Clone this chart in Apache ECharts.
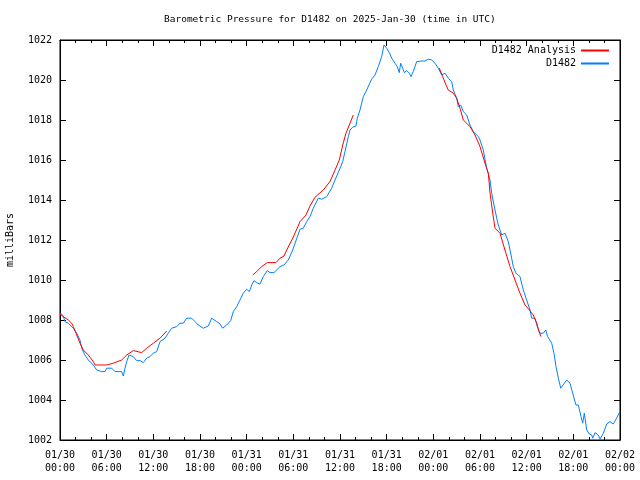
<!DOCTYPE html>
<html>
<head>
<meta charset="utf-8">
<script src="https://cdn.jsdelivr.net/npm/echarts@6/dist/echarts.min.js"></script>
<style>html,body{margin:0;padding:0;background:#fff}#c{width:640px;height:480px}</style>
</head>
<body>
<div id="c"></div>
<script>
// Hours since 2025-01-30 00:00 UTC
var xTickLabels = ['01/30\n00:00','01/30\n06:00','01/30\n12:00','01/30\n18:00','01/31\n00:00','01/31\n06:00','01/31\n12:00','01/31\n18:00','02/01\n00:00','02/01\n06:00','02/01\n12:00','02/01\n18:00','02/02\n00:00'];

var stationHours = [0,0.42,0.64,1.07,1.29,1.71,2.15,2.57,2.79,3.21,3.64,4.28,4.72,5.36,5.79,6.0,6.65,7.07,7.93,8.14,8.36,8.58,8.87,9.42,9.86,10.29,10.71,11.15,11.57,12.0,12.43,12.64,12.86,13.5,13.92,14.36,15.0,15.43,15.85,16.29,16.93,17.36,17.78,18.42,19.07,19.5,20.15,20.57,20.92,21.43,21.95,22.28,22.72,23.14,23.57,24.0,24.34,24.65,24.94,25.29,25.71,26.14,26.65,27.0,27.51,28.29,28.8,29.35,29.92,30.86,31.28,31.72,32.14,32.57,33.21,33.65,34.29,34.93,35.36,35.91,36.35,36.64,37.07,37.29,37.63,38.06,38.22,38.57,39.0,39.43,40.07,40.5,40.92,41.36,41.66,42.0,42.34,42.65,43.07,43.37,43.62,43.8,44.06,44.27,44.58,44.91,45.13,45.42,45.86,46.5,46.93,47.35,47.79,48.21,48.64,49.07,49.5,49.92,50.36,50.57,51.0,51.21,51.52,51.85,52.29,52.71,53.14,53.78,54.0,54.42,54.86,55.29,55.5,55.93,56.15,56.35,56.79,57.21,57.64,58.07,58.28,58.63,59.14,59.57,60.0,60.43,60.65,61.07,61.37,61.71,62.14,62.45,62.7,63.22,63.51,63.77,64.07,64.38,64.63,65.15,65.57,65.92,66.34,66.64,66.99,67.2,67.41,67.72,68.05,68.36,68.49,68.79,69.21,69.43,69.86,70.29,70.71,71.14,71.49,72.0];
var stationPressure = [1008.37,1008.2,1007.92,1007.84,1007.75,1007.59,1007.34,1007.0,1006.59,1006.25,1006.0,1005.75,1005.5,1005.42,1005.42,1005.59,1005.59,1005.42,1005.42,1005.2,1005.59,1005.92,1006.25,1006.17,1005.97,1005.97,1005.87,1006.09,1006.17,1006.34,1006.42,1006.5,1006.92,1007.09,1007.34,1007.59,1007.67,1007.84,1007.84,1008.09,1008.09,1007.92,1007.75,1007.59,1007.7,1008.09,1007.92,1007.8,1007.59,1007.75,1007.97,1008.42,1008.67,1009.0,1009.34,1009.54,1009.42,1009.75,1009.97,1009.87,1009.79,1010.17,1010.47,1010.37,1010.37,1010.67,1010.75,1011.0,1011.5,1012.54,1012.59,1012.92,1013.17,1013.59,1014.09,1014.04,1014.17,1014.59,1015.0,1015.5,1015.92,1016.42,1017.17,1017.5,1017.64,1017.7,1018.09,1018.5,1019.17,1019.5,1020.04,1020.25,1020.67,1021.17,1021.75,1021.59,1021.37,1021.09,1020.84,1020.67,1020.37,1020.84,1020.59,1020.37,1020.47,1020.34,1020.17,1020.42,1020.92,1020.95,1020.95,1021.04,1021.0,1020.84,1020.59,1020.25,1020.34,1020.09,1019.92,1019.5,1019.09,1018.67,1018.75,1018.42,1018.25,1017.75,1017.42,1017.17,1017.0,1016.5,1015.59,1015.0,1014.34,1013.5,1013.09,1012.75,1012.25,1012.34,1011.92,1011.09,1010.67,1010.34,1010.17,1009.5,1009.0,1008.5,1008.09,1008.09,1007.67,1007.34,1007.34,1007.5,1007.17,1006.84,1006.34,1005.67,1005.09,1004.59,1004.5,1005.0,1004.84,1004.34,1003.75,1003.75,1003.17,1002.84,1003.34,1002.5,1002.3,1002.25,1002.09,1002.37,1002.25,1002.04,1002.34,1002.8,1002.92,1002.8,1003.04,1003.42];

// Analysis runs; null marks a break between runs
var analysisHours = [0,0.42,1.07,1.5,1.71,2.15,2.57,3.0,3.64,4.28,4.5,6.0,6.85,7.93,8.58,9.42,10.5,11.15,12.0,12.86,13.72,
  null,
  24.78,25.29,25.93,26.65,27.77,28.29,28.8,29.15,30.0,30.86,31.63,32.14,32.79,33.85,34.71,35.36,35.91,36.35,36.77,37.29,37.71,
  null,
  48.77,49.2,49.63,49.92,50.57,51.0,51.43,51.85,52.29,52.71,53.36,54.0,54.64,55.07,55.29,55.64,55.93,56.57,57.21,57.86,58.5,59.14,59.79,60.34,60.85,61.29,61.59,61.84];
var analysisPressure = [1008.3,1008.17,1008.0,1007.84,1007.67,1007.25,1006.84,1006.5,1006.25,1005.92,1005.75,1005.75,1005.84,1006.0,1006.25,1006.47,1006.37,1006.59,1006.84,1007.09,1007.45,
  null,
  1010.25,1010.42,1010.67,1010.87,1010.87,1011.09,1011.2,1011.5,1012.15,1012.92,1013.25,1013.7,1014.14,1014.5,1014.92,1015.5,1016.0,1016.75,1017.34,1017.84,1018.25,
  null,
  1020.59,1020.17,1019.75,1019.5,1019.34,1019.09,1018.59,1018.0,1017.84,1017.67,1017.25,1016.67,1015.84,1015.34,1014.34,1013.34,1012.59,1012.34,1011.5,1010.67,1010.0,1009.34,1008.75,1008.5,1008.25,1007.84,1007.42,1007.17];

var FONT = 'DejaVu Sans Mono';
var stationData = stationHours.map(function(h,i){return [h, stationPressure[i]];});
var analysisRuns = [[]];
analysisHours.forEach(function(h,i){
  if (h === null) { analysisRuns.push([]); }
  else { analysisRuns[analysisRuns.length-1].push([h, analysisPressure[i]]); }
});

var series = analysisRuns.map(function(run){
  return {name:'D1482 Analysis', type:'line', data:run, showSymbol:false, symbol:'none',
    lineStyle:{color:'#ff0000', width:1}, itemStyle:{color:'#ff0000'}, z:3};
});
series.push({name:'D1482', type:'line', data:stationData, showSymbol:false, symbol:'none',
  lineStyle:{color:'#0080ff', width:1}, itemStyle:{color:'#0080ff'}, z:2});

function xAxisBase(pos, show){
  return {type:'value', position:pos, min:0, max:72, interval:6,
    axisLine:{show:true, onZero:false, lineStyle:{color:'#000', width:1}},
    axisTick:{show:true, inside:true, length:6, lineStyle:{color:'#000'}},
    minorTick:{show:true, splitNumber:3, length:3, lineStyle:{color:'#000'}},
    splitLine:{show:false},
    axisLabel:{show:show, color:'#000', fontFamily:FONT, fontSize:10, lineHeight:13, margin:9,
      formatter:function(v){return xTickLabels[Math.round(v/6)];}}};
}
function yAxisBase(pos, show){
  return {type:'value', position:pos, min:1002, max:1022, interval:2,
    axisLine:{show:true, onZero:false, lineStyle:{color:'#000', width:1}},
    axisTick:{show:true, inside:true, length:6, lineStyle:{color:'#000'}},
    splitLine:{show:false},
    axisLabel:{show:show, color:'#000', fontFamily:FONT, fontSize:10, margin:8,
      formatter:function(v){return String(v);}}};
}
var yL = yAxisBase('left', true);
yL.name = 'milliBars'; yL.nameLocation = 'middle'; yL.nameRotate = 90; yL.nameGap = 45;
yL.nameTextStyle = {color:'#000', fontFamily:FONT, fontSize:10};

var chart = echarts.init(document.getElementById('c'), null, {renderer:'canvas'});
chart.setOption({
  animation:false,
  backgroundColor:'#fff',
  title:{text:'Barometric Pressure for D1482 on 2025-Jan-30 (time in UTC)', left:164, top:15, padding:0,
    textStyle:{color:'#000', fontFamily:FONT, fontSize:9.5, fontWeight:'normal'}},
  legend:{orient:'vertical', align:'right', right:31, top:45, padding:0, itemGap:2,
    itemWidth:28, itemHeight:2, icon:'rect',
    data:['D1482 Analysis','D1482'],
    textStyle:{color:'#000', fontFamily:FONT, fontSize:10, lineHeight:11}},
  grid:{left:60, right:20, top:40, bottom:40, show:true, borderColor:'#000', borderWidth:1,
    backgroundColor:'transparent', containLabel:false, outerBoundsMode:'none'},
  xAxis:[xAxisBase('bottom', true), xAxisBase('top', false)],
  yAxis:[yL, yAxisBase('right', false)],
  series:series
});
</script>
</body>
</html>
